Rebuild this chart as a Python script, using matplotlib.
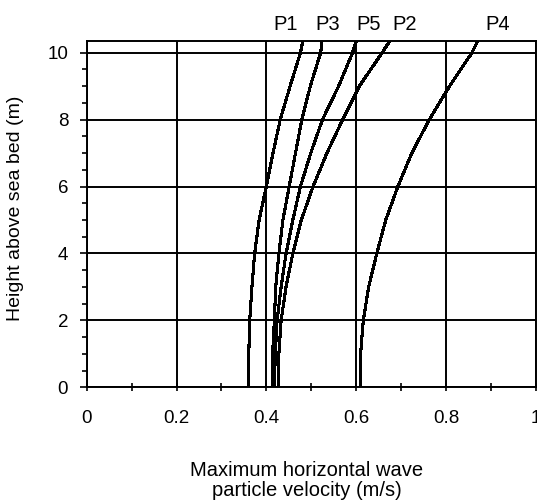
import matplotlib.pyplot as plt
import matplotlib.ticker as ticker

plt.rcParams["font.family"] = ["Liberation Sans", "DejaVu Sans"]

# heights above sea bed (m) and max horizontal particle velocity (m/s) per profile
heights = [0, 1, 2, 3, 4, 5, 6, 7, 8, 9, 10, 10.33]
p1 = [0.360, 0.361, 0.363, 0.368, 0.374, 0.384, 0.400, 0.415, 0.431, 0.453, 0.476, 0.481]
p3 = [0.413, 0.414, 0.418, 0.421, 0.428, 0.437, 0.451, 0.465, 0.479, 0.498, 0.521, 0.524]
p5 = [0.418, 0.420, 0.424, 0.433, 0.444, 0.459, 0.476, 0.499, 0.525, 0.561, 0.592, 0.600]
p2 = [0.427, 0.428, 0.433, 0.444, 0.459, 0.478, 0.504, 0.535, 0.570, 0.607, 0.658, 0.674]
p4 = [0.609, 0.610, 0.616, 0.628, 0.646, 0.666, 0.693, 0.724, 0.763, 0.808, 0.858, 0.870]

profiles = {"P1": p1, "P3": p3, "P5": p5, "P2": p2, "P4": p4}
label_x = {"P1": 0.444, "P3": 0.537, "P5": 0.628, "P2": 0.709, "P4": 0.915}

fig = plt.figure(figsize=(5.37, 5.00), dpi=100)
ax = fig.add_axes([86.7 / 537, 112.7 / 500, 449.0 / 537, 346.6 / 500])

for name, vals in profiles.items():
    ax.plot(vals, heights, color="black", lw=1.5, antialiased=False, zorder=3)
    ax.text(label_x[name], 10.68, name, ha="center", va="baseline",
            fontsize=14.5, clip_on=False)

ax.set_xlim(0, 1)
ax.set_ylim(0, 10.36)

ax.xaxis.set_major_locator(ticker.MultipleLocator(0.2))
ax.xaxis.set_minor_locator(ticker.MultipleLocator(0.1))
ax.yaxis.set_major_locator(ticker.MultipleLocator(2))
ax.yaxis.set_minor_locator(ticker.MultipleLocator(0.5))
ax.xaxis.set_major_formatter(ticker.FuncFormatter(lambda v, p: f"{v:g}"))

ax.grid(True, which="major", color="black", lw=1.4)
ax.set_axisbelow(True)
for s in ax.spines.values():
    s.set_linewidth(1.4)

ax.tick_params(axis="x", which="both", direction="inout", length=5.3, width=1.2,
               labelsize=13.5, pad=13.7)
ax.tick_params(axis="y", which="major", direction="out", length=5.3, width=1.2,
               labelsize=13.5, pad=8)
ax.tick_params(axis="y", which="minor", direction="out", length=3.6, width=1.2)

ax.set_ylabel("Height above sea bed (m)", fontsize=14)
ax.yaxis.set_label_coords(-0.139, 0.515)

# two-line x label, tight leading as in the original
fig.text(306.5 / 537, 1 - 476.5 / 500, "Maximum horizontal wave",
         ha="center", va="baseline", fontsize=14.5)
fig.text(306.5 / 537, 1 - 495.5 / 500, "particle velocity (m/s)",
         ha="center", va="baseline", fontsize=14.5)

fig.savefig("out.png", dpi=100)
